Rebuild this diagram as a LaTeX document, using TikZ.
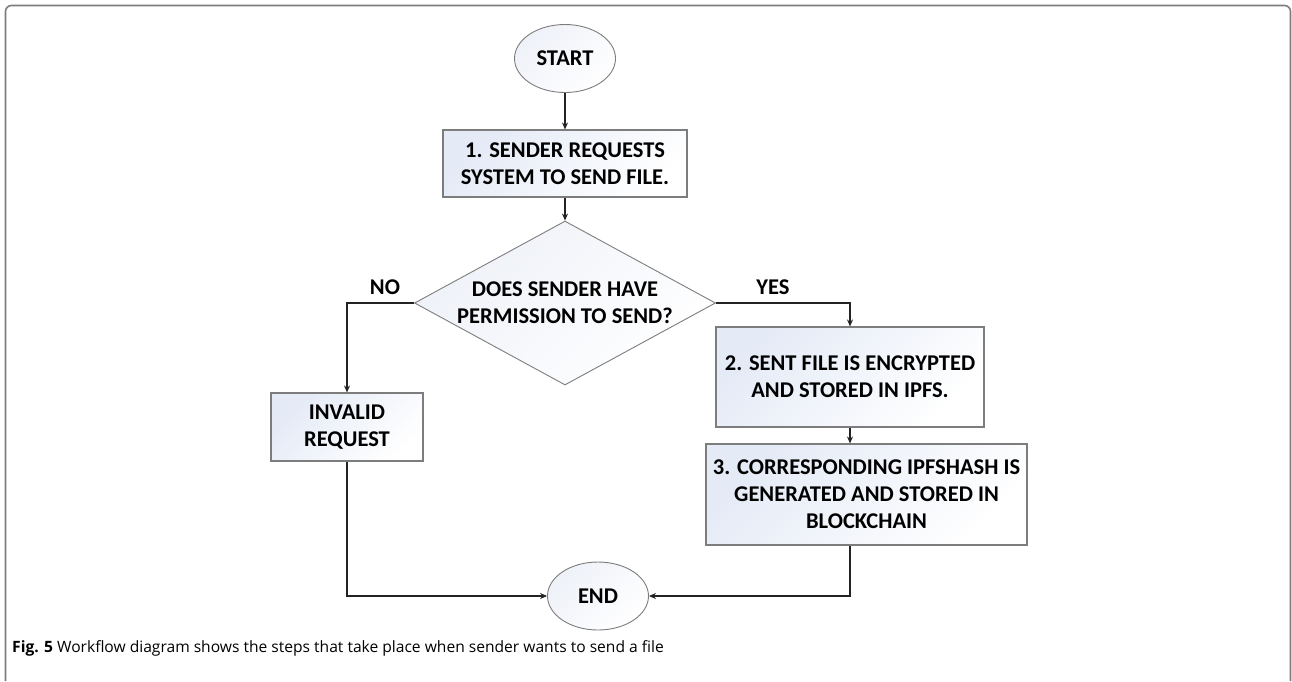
\documentclass[tikz,border=0pt]{standalone}
\usepackage{fontspec}
\setmainfont{Carlito}
\newfontfamily\capfont{Open Sans}
\usetikzlibrary{shapes.geometric,arrows.meta}
\definecolor{shadeblue}{RGB}{228,234,246}
\definecolor{shadelight}{RGB}{238,241,248}
\definecolor{edgegray}{RGB}{125,125,125}
\definecolor{linedark}{RGB}{35,35,35}
\tikzset{
  shaded/.style={top color=shadeblue, bottom color=white, shading angle=45},
  softshaded/.style={top color=shadelight, bottom color=white, shading angle=45},
  boxfont/.style={font=\fontsize{22.5}{27}\selectfont\bfseries},
  procbox/.style={shaded, draw=edgegray, line width=1.1pt, rectangle, inner sep=0pt,
    align=center, boxfont},
  termnode/.style={softshaded, draw=edgegray, line width=0.9pt, ellipse, inner sep=0pt,
    minimum width=101pt, minimum height=68pt, boxfont},
  decnode/.style={softshaded, draw=edgegray, line width=0.9pt, diamond, inner sep=0pt, aspect=1.84,
    minimum width=301pt, minimum height=164pt, align=center, boxfont},
  flow/.style={draw=linedark, line width=1.8pt, -{Stealth[length=7pt,width=6pt]}},
  branchlbl/.style={boxfont},
}
\begin{document}
\begin{tikzpicture}[x=1pt,y=-1pt]
\useasboundingbox (0,0) rectangle (1292,681);
% outer frame, open at the bottom
\draw[edgegray, line width=1.6pt, rounded corners=6pt] (5.5,681) -- (5.5,5.5) -- (1290.5,5.5) -- (1290.5,681);

\node[termnode] (start) at (565,58.5) {START};
\node[procbox, minimum width=244pt, minimum height=67pt] (s1) at (565,163.5)
  {1. SENDER REQUESTS\\SYSTEM TO SEND FILE.};
\node[decnode] (dec) at (565,303) {DOES SENDER HAVE\\PERMISSION TO SEND?};
\node[procbox, minimum width=152pt, minimum height=68pt] (inv) at (347,427)
  {INVALID\\REQUEST};
\node[procbox, minimum width=268pt, minimum height=100pt] (s2) at (850,377)
  {2. SENT FILE IS ENCRYPTED\\AND STORED IN IPFS.};
\node[procbox, minimum width=321pt, minimum height=101pt] (s3) at (866.5,494.5)
  {3. CORRESPONDING IPFSHASH IS\\GENERATED AND STORED IN\\BLOCKCHAIN};
\node[termnode] (end) at (598,596) {END};

\coordinate (noc) at (347,303);
\coordinate (yesc) at (850,303);
\coordinate (invb) at (347,596);
\coordinate (s3b) at (850,596);

\node[branchlbl] (nolbl) at (385,287) {NO};
\node[branchlbl] (yeslbl) at (773,287) {YES};

\draw[flow] (start) -- (s1);
\draw[flow] (s1) -- (dec);
\draw[flow] (dec.west) -- (noc) -- (inv.north);
\draw[flow] (dec.east) -- (yesc) -- (s2.north);
\draw[flow] (s2.south) -- (s2.south |- s3.north);
\draw[flow] (inv.south) -- (invb) -- (end.west);
\draw[flow] (s3.south -| s3b) -- (s3b) -- (end.east);

\node[anchor=base west, inner sep=0pt, font=\capfont\fontsize{15.6}{18}\selectfont] (cap) at (12,652)
  {\textbf{Fig. 5} Workflow diagram shows the steps that take place when sender wants to send a file};
\end{tikzpicture}
\end{document}
